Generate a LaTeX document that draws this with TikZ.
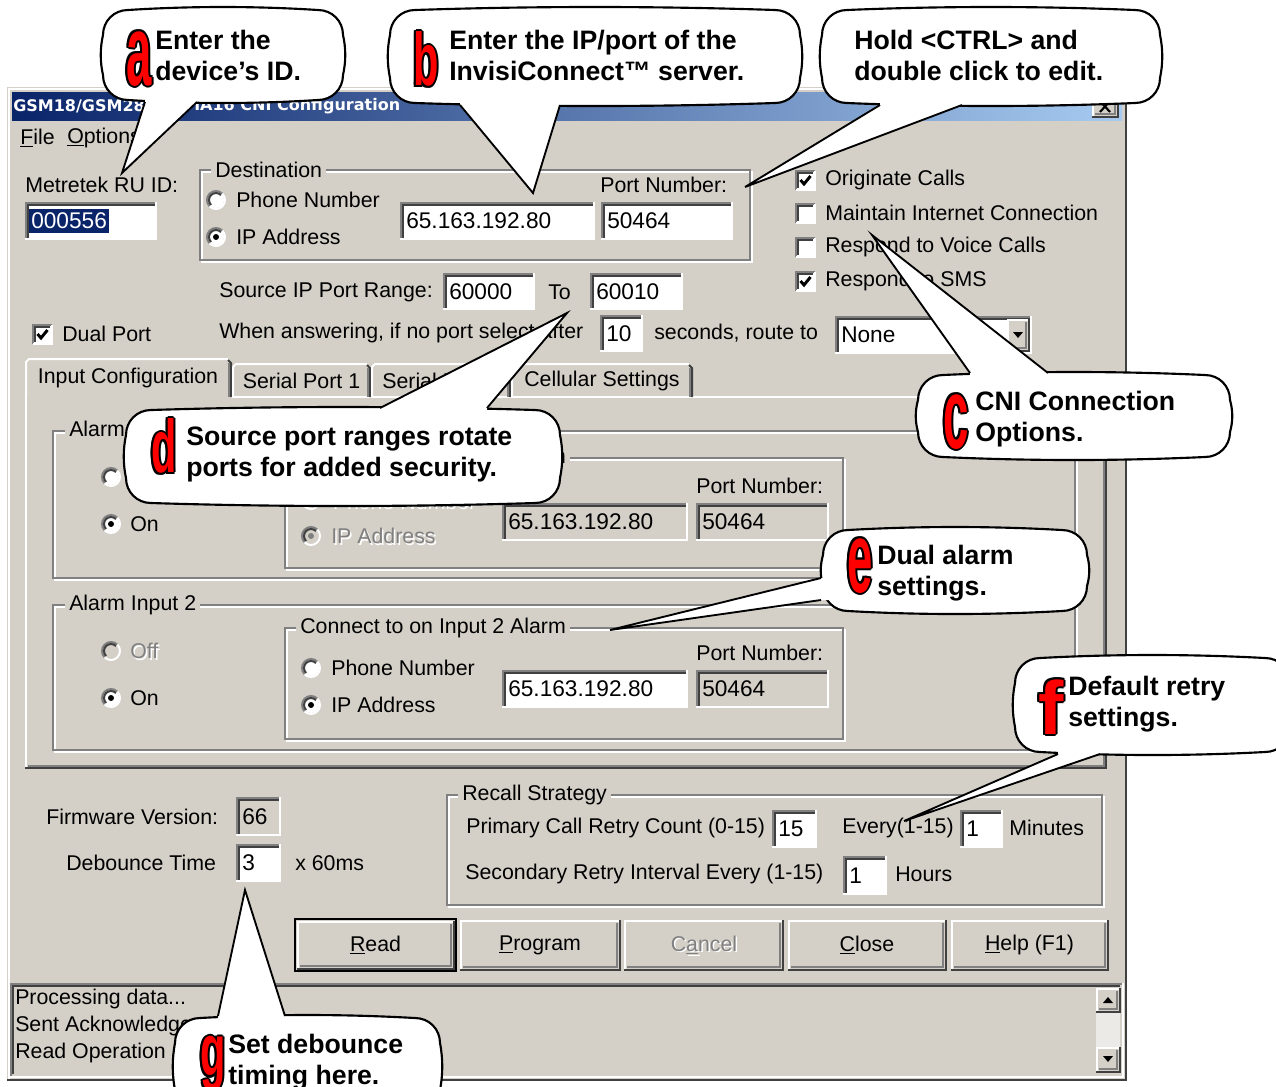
\documentclass[tikz,border=0pt]{standalone}
\usepackage{fontspec}
\usepackage{graphicx}
\setmainfont{Liberation Sans}
\newfontfamily\titlefont{DejaVu Sans}
\definecolor{winbg}{HTML}{D4D0C8}
\definecolor{shd}{HTML}{808080}
\definecolor{dkk}{HTML}{404040}
\definecolor{navy}{HTML}{0A246A}
\definecolor{lblue}{HTML}{A6CAF0}
\definecolor{ltrred}{HTML}{FF0000}
\tikzset{
 ui/.style={font=\fontsize{16}{19}\selectfont, inner sep=0pt, text=black},
 uid/.style={font=\fontsize{17}{19}\selectfont, inner sep=0pt, text=black},
 callout/.style={fill=white, draw=black, line width=1.6pt},
 cline/.style={draw=black, line width=1.4pt, line join=miter},
 ctext/.style={font=\bfseries\fontsize{20}{23.25}\selectfont, align=left, inner sep=0pt, anchor=west},
 ltr/.style={font=\bfseries\fontsize{30}{30}\selectfont, inner sep=0pt},
 lw/.style={line width=1.5pt},
}
% edit box: [fill]{name}{x1}{y1}{x2}{y2}{text}
\newcommand\ebox[7][white]{%
 \fill[#1] (#3,#4) rectangle (#5,#6);
 \draw[shd,lw] (#3+1,#6) -- (#3+1,#4+1) -- (#5,#4+1);
 \draw[dkk,lw] (#3+3,#6-2) -- (#3+3,#4+3) -- (#5-2,#4+3);
 \draw[white,lw] (#3,#6-1) -- (#5-1,#6-1) -- (#5-1,#4);
 \node[uid,anchor=west] (#2) at (#3+6,{(#4+#6)/2}) {#7};}
% radio: {name}{x}{y}{fill}{dot}
\newcommand\radio[5]{%
 \path[fill=#4] (#2,#3) circle[radius=8];
 \draw[shd,lw] (#2,#3) ++(135:9) arc[start angle=135,end angle=315,radius=9];
 \draw[dkk,lw] (#2,#3) ++(135:7) arc[start angle=135,end angle=315,radius=7];
 \draw[white,lw] (#2,#3) ++(315:9) arc[start angle=315,end angle=495,radius=9];
 \path[fill=#5] (#2,#3) circle[radius=3];
 \coordinate (#1) at (#2,#3);}
% checkbox: {name}{x}{y}{checked}
\newcommand\cbox[4]{%
 \fill[white] (#2,#3) rectangle (#2+20,#3+20);
 \draw[shd,lw] (#2+1,#3+20) -- (#2+1,#3+1) -- (#2+20,#3+1);
 \draw[dkk,lw] (#2+3,#3+18) -- (#2+3,#3+3) -- (#2+18,#3+3);
 \draw[white,lw] (#2+1,#3+20) -- (#2+20,#3+20) -- (#2+20,#3+1);
 \coordinate (#1) at (#2+10,#3+10);
 \ifnum#4=1 \draw[line width=2.2pt] (#2+5.5,#3+10) -- (#2+9,#3+14) -- (#2+15.5,#3+6);\fi}
% group box: {name}{x1}{y1}{x2}{y2}{label}{labelx}
\newcommand\gbox[7]{%
 \draw[white,lw] (#2+2,#3+2) rectangle (#4,#5);
 \draw[shd,lw] (#2,#3) rectangle (#4-2,#5-2);
 \node[ui,fill=winbg,inner xsep=3pt,anchor=west] (#1) at (#7,#3) {#6};}
% button: {name}{x1}{y1}{x2}{y2}{text}
\newcommand\btn[6]{%
 \fill[winbg] (#2,#3) rectangle (#4,#5);
 \draw[white,lw] (#2+1,#5-1) -- (#2+1,#3+1) -- (#4-1,#3+1);
 \draw[shd,lw] (#2+3,#5-3) -- (#4-3,#5-3) -- (#4-3,#3+3);
 \draw[dkk,lw] (#2,#5) -- (#4,#5) -- (#4,#3);
 \node[ui] (#1) at ({(#2+#4)/2},{(#3+#5)/2}) {#6};}
% tab: {name}{x1}{x2}{text}
\newcommand\uitab[4]{%
 \draw[white,lw] (#2,397) -- (#2,367) -- (#2+3,364) -- (#3-3,364);
 \draw[dkk,lw] (#3-3,365) -- (#3,368) -- (#3,397);
 \draw[shd,lw] (#3-2.5,368) -- (#3-2.5,397);
 \node[ui] (#1) at ({(#2+#3)/2},381) {#4};}
% disabled text: {name}{x}{y}{text}
\newcommand\distext[4]{%
 \node[ui,text=white,anchor=west] (#1s) at (#2+1.5,#3+1.5) {#4};
 \node[ui,text=shd,anchor=west] (#1) at (#2,#3) {#4};}
% callout body: {name}{x1}{y1}{x2}{y2}
\newcommand\callbox[5]{%
 \path[callout] (#2,#3+25) .. controls (#2,#3+11) and (#2+11,#3) .. (#2+25,#3)
 .. controls ({#2+25+(#4-#2-50)/3},#3-4) and ({#4-25-(#4-#2-50)/3},#3-4) .. (#4-25,#3)
 .. controls (#4-11,#3) and (#4,#3+11) .. (#4,#3+25)
 .. controls (#4+3,{#3+25+(#5-#3-50)/3}) and (#4+3,{#5-25-(#5-#3-50)/3}) .. (#4,#5-25)
 .. controls (#4,#5-11) and (#4-11,#5) .. (#4-25,#5)
 .. controls ({#4-25-(#4-#2-50)/3},#5+4) and ({#2+25+(#4-#2-50)/3},#5+4) .. (#2+25,#5)
 .. controls (#2+11,#5) and (#2,#5-11) .. (#2,#5-25)
 .. controls (#2-3,{#5-25-(#5-#3-50)/3}) and (#2-3,{#3+25+(#5-#3-50)/3}) .. (#2,#3+25) -- cycle;
 \coordinate (#1) at ({(#2+#4)/2},{(#3+#5)/2});}
% pointer: {tipname}{tipx}{tipy}{b1x}{b1y}{b2x}{b2y}{dx}{dy}
\newcommand\cpointer[9]{%
 \coordinate (#1) at (#2,#3);
 \fill[white] (#4,#5) -- (#1) -- (#6,#7) -- (#6+#8,#7+#9) -- (#4+#8,#5+#9) -- cycle;
 \draw[cline] (#4,#5) -- (#1) -- (#6,#7);}
% outlined letter: {name}{x}{y}{letter}
\newcommand\calletter[4]{%
 \foreach \dx/\dy in {-1.6/0,1.6/0,0/-1.6,0/1.6,-1.15/-1.15,1.15/1.15,-1.15/1.15,1.15/-1.15}
  \node[ltr,text=black,xshift=\dx pt,yshift=\dy pt] at (#2,#3) {\resizebox*{19pt}{41pt}{#4}};
 \node[ltr,text=ltrred] (#1) at (#2,#3) {\resizebox*{19pt}{41pt}{#4}};}

\begin{document}
\begin{tikzpicture}[x=0.75pt,y=-0.75pt]
\useasboundingbox (0,0) rectangle (1276,1086);
\fill[white] (0,0) rectangle (1276,1086);
% window
\fill[winbg] (7,87) rectangle (1126,1080);
\draw[white,lw] (9,1079) -- (9,89) -- (1124,89);
\draw[dkk,lw] (1126,87) -- (1126,1080) -- (7,1080);
\shade[left color=navy, right color=lblue] (12,92) rectangle (1122,120);
\node[font=\titlefont\bfseries\fontsize{12}{14}\selectfont,text=white,anchor=west,inner sep=0pt] (title1) at (13,106) {GSM18/GSM28/};
\node[font=\titlefont\bfseries\fontsize{12}{14}\selectfont,text=white,anchor=west,inner sep=0pt] (title2) at (194,106) {IA16 CNI Configuration};
\btn{bx}{1092}{96}{1118}{117}{}
\draw[line width=1.6pt] (1100,101) -- (1110,112) (1110,101) -- (1100,112);
% menu
\node[ui,anchor=west] (mfile) at (20,138) {\underline{F}ile};
\node[ui,anchor=west] (mopt) at (67,138) {\underline{O}ptions};
% id
\node[ui,anchor=west] (ruid) at (25,185) {Metretek RU ID:};
\ebox{eid}{25}{202}{157}{240}{}
\node[uid,text=white,fill=navy,anchor=west,inner xsep=1.5pt,inner ysep=3pt] (idtxt) at (29,221) {000556};
% destination
\gbox{gdest}{200}{170}{752}{262}{Destination}{211}
\radio{rph}{216}{200}{white}{none}
\node[ui,anchor=west] (tph) at (236,200) {Phone Number};
\radio{rip}{216}{237}{white}{black}
\node[ui,anchor=west] (tipa) at (236,237) {IP Address};
\ebox{eip}{400}{202}{595}{240}{65.163.192.80}
\node[ui,anchor=west] (pn1) at (600,185) {Port Number:};
\ebox{eport}{601}{202}{733}{240}{50464}
% source range
\node[ui,anchor=west] (src) at (219,292) {Source IP Port Range:};
\ebox{es1}{443}{273}{535}{310}{60000}
\node[ui,anchor=west] (tto) at (548,292) {To};
\ebox{es2}{590}{273}{683}{310}{60010}
\cbox{cdual}{32}{324}{1}
\node[ui,anchor=west] (tdual) at (62,334) {Dual Port};
\node[ui,anchor=west] (twhen) at (219,333) {When answering, if no port select after};
\ebox{esec}{600}{315}{643}{352}{10}
\node[ui,anchor=west] (tsec) at (654,333) {seconds, route to};
\ebox{ecombo}{835}{316}{1032}{354}{None}
\btn{bdrop}{1007}{319}{1029}{351}{}
\fill (1013,332) -- (1023,332) -- (1018,338) -- cycle;
% right checkboxes
\cbox{co}{795}{170}{1}
\node[ui,anchor=west] (tco) at (825,180) {Originate Calls};
\cbox{cm}{795}{203}{0}
\node[ui,anchor=west] (tcm) at (825,213) {Maintain Internet Connection};
\cbox{cv}{795}{237}{0}
\node[ui,anchor=west] (tcv) at (825,247) {Respond to Voice Calls};
\cbox{cs}{795}{271}{1}
\node[ui,anchor=west] (tcs) at (825,281) {Respond to SMS};
% tab panel
\draw[white,lw] (231,397) -- (1105,397);
\draw[white,lw] (26,397) -- (26,767);
\draw[shd,lw] (1103.5,399) -- (1103.5,765.5) -- (28,765.5);
\draw[dkk,lw] (1106,396) -- (1106,768) -- (25,768);
\draw[white,lw] (26,397) -- (26,362) -- (29,359) -- (228,359);
\draw[dkk,lw] (228,360) -- (231,363) -- (231,397);
\draw[shd,lw] (228.5,363) -- (228.5,397);
\node[ui] (tabin) at (128,378) {Input Configuration};
\uitab{tabs1}{233}{370}{Serial Port 1}
\uitab{tabs2}{372}{510}{Serial Port 2}
\uitab{tabcell}{512}{692}{Cellular Settings}
% alarm 1
\gbox{ga1}{53}{431}{1077}{580}{Alarm Input 1}{65}
\radio{ra1off}{111}{477}{white}{none}
\node[ui,anchor=west] (ta1off) at (130,477) {Off};
\radio{ra1on}{111}{524}{white}{black}
\node[ui,anchor=west] (ta1on) at (130,524) {On};
\gbox{gc1}{285}{458}{845}{570}{Connect to on Input 1 Alarm}{296}
\radio{rc1ph}{311}{500}{winbg}{none}
\distext{tc1ph}{331}{500}{Phone Number}
\radio{rc1ip}{311}{536}{winbg}{shd}
\distext{tc1ip}{331}{536}{IP Address}
\ebox[winbg]{ec1ip}{502}{503}{688}{541}{65.163.192.80}
\node[ui,anchor=west] (pn2) at (696,486) {Port Number:};
\ebox[winbg]{ec1pt}{696}{503}{829}{541}{50464}
% alarm 2
\gbox{ga2}{53}{605}{1077}{752}{Alarm Input 2}{65}
\radio{ra2off}{111}{651}{winbg}{none}
\distext{ta2off}{130}{651}{Off}
\radio{ra2on}{111}{698}{white}{black}
\node[ui,anchor=west] (ta2on) at (130,698) {On};
\gbox{gc2}{285}{628}{845}{741}{Connect to on Input 2 Alarm}{296}
\radio{rc2ph}{311}{668}{white}{none}
\node[ui,anchor=west] (tc2ph) at (331,668) {Phone Number};
\radio{rc2ip}{311}{705}{white}{black}
\node[ui,anchor=west] (tc2ip) at (331,705) {IP Address};
\ebox{ec2ip}{502}{670}{688}{708}{65.163.192.80}
\node[ui,anchor=west] (pn3) at (696,653) {Port Number:};
\ebox[winbg]{ec2pt}{696}{670}{829}{708}{50464}
% firmware / debounce
\node[ui,anchor=west] (tfw) at (46,817) {Firmware Version:};
\ebox[winbg]{efw}{236}{797}{281}{836}{66}
\node[ui,anchor=west] (tdb) at (66,863) {Debounce Time};
\ebox{edb}{236}{844}{281}{882}{3}
\node[ui,anchor=west] (tms) at (295,863) {x 60ms};
% recall
\gbox{grec}{447}{795}{1104}{907}{Recall Strategy}{458}
\node[ui,anchor=west] (tpri) at (466,828) {Primary Call Retry Count (0-15)};
\ebox{epri}{772}{810}{817}{848}{15}
\node[ui,anchor=west] (tev) at (842,828) {Every(1-15)};
\ebox{eev}{960}{810}{1003}{848}{1}
\node[ui,anchor=west] (tmin) at (1009,828) {Minutes};
\node[ui,anchor=west] (tsr) at (465,874) {Secondary Retry Interval Every (1-15)};
\ebox{esr}{843}{856}{887}{895}{1}
\node[ui,anchor=west] (thr) at (895,874) {Hours};
% buttons
\draw[black,lw] (295,919) rectangle (456,971);
\btn{bread}{297}{921}{454}{969}{\underline{R}ead}
\btn{bprog}{460}{920}{620}{970}{\underline{P}rogram}
\btn{bcan}{624}{920}{783}{970}{}
\node[ui,text=white] (tcans) at (705.5,946.5) {C\underline{a}ncel};
\node[ui,text=shd] (tcan) at (704,945) {C\underline{a}ncel};
\btn{bclose}{788}{920}{946}{970}{\underline{C}lose}
\btn{bhelp}{951}{920}{1108}{970}{\underline{H}elp (F1)}
% status box
\draw[shd,lw] (11,1076) -- (11,984) -- (1122,984);
\draw[dkk,lw] (13,1074) -- (13,986) -- (1120,986);
\draw[white,lw] (10,1077) -- (1123,1077) -- (1123,983);
\node[ui,anchor=west] (st1) at (15,999) {Processing data...};
\node[ui,anchor=west] (st2) at (15,1026) {Sent Acknowledge};
\node[ui,anchor=west] (st3) at (15,1053) {Read Operation};
\fill[winbg!45!white] (1096,1012) rectangle (1120,1047);
\btn{bup}{1096}{988}{1120}{1012}{}
\fill (1103,1003) -- (1113,1003) -- (1108,997) -- cycle;
\btn{bdn}{1096}{1047}{1120}{1072}{}
\fill (1103,1056) -- (1113,1056) -- (1108,1062) -- cycle;

% ===== callouts =====
% a
\callbox{cba}{103}{10}{343}{100}
\cpointer{ta}{122}{173}{145}{102}{197}{102}{0}{-12}
\calletter{la}{139}{59}{a}
\node[ctext] (ca) at (155,55) {Enter the\\device’s ID.};
% b
\callbox{cbb}{390}{10}{800}{103}
\cpointer{tb}{533}{193}{460}{105}{560}{105}{0}{-12}
\calletter{lb}{426}{59}{b}
\node[ctext] (cb) at (449,55) {Enter the IP/port of the\\InvisiConnect™ server.};
% hold
\callbox{cbh}{822}{10}{1160}{103}
\cpointer{th}{745}{187}{880}{105}{962}{105}{0}{-12}
\node[ctext] (ch) at (854,55) {Hold <CTRL> and\\double click to edit.};
% c
\callbox{cbc}{918}{375}{1230}{457}
\cpointer{tc}{872}{235}{970}{373}{1048}{373}{0}{12}
\calletter{lc}{956}{422}{c}
\node[ctext] (cc) at (975,419) {CNI Connection\\Options.};
% d
\callbox{cbd}{126}{410}{560}{503}
\cpointer{td}{567}{313}{380}{408}{487}{408}{0}{12}
\calletter{ld}{164}{446}{d}
\node[ctext] (cd) at (186,454) {Source port ranges rotate\\ports for added security.};
% e
\callbox{cbe}{823}{530}{1087}{611}
\cpointer{te}{610}{630}{821}{578}{821}{600}{12}{0}
\calletter{le}{860}{566}{e}
\node[ctext] (ce) at (877,573) {Dual alarm\\settings.};
% f
\callbox{cbf}{1015}{658}{1290}{752}
\cpointer{tf}{904}{821}{1058}{754}{1100}{754}{0}{-12}
\calletter{lf}{1051}{707}{f}
\node[ctext] (cf) at (1068,704) {Default retry\\settings.};
% g
\callbox{cbg}{175}{1018}{440}{1115}
\cpointer{tg}{245}{890}{218}{1016}{285}{1016}{0}{12}
\calletter{lg}{213}{1064}{g}
\node[ctext] (cg) at (228,1062) {Set debounce\\timing here.};
\end{tikzpicture}
\end{document}
